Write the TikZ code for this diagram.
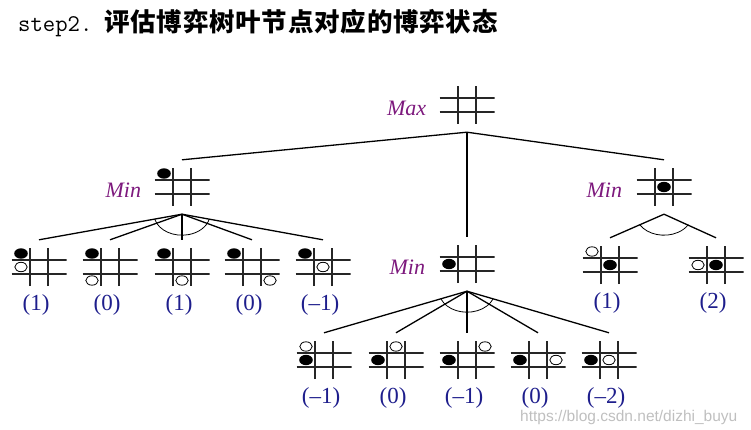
\documentclass[tikz,border=0pt]{standalone}
\usepackage{fontspec}
\setmainfont{Liberation Serif}
\newfontfamily\cjk[LetterSpace=3]{Noto Sans CJK SC}
\newfontfamily\wmfont{Liberation Sans}
\usetikzlibrary{positioning}
\definecolor{minc}{RGB}{125,25,125}
\definecolor{valc}{RGB}{30,30,140}

\begin{document}
\begin{tikzpicture}[
    x=1pt, y=1pt,
    gridline/.style={line width=1.6pt, black!85},
    board/.style={minimum width=55pt, minimum height=54pt, inner sep=0pt,
        path picture={
            \draw[gridline] ([shift={(-9,-19)}]path picture bounding box.center) -- ++(0,38)
                            ([shift={(9,-19)}]path picture bounding box.center) -- ++(0,38)
                            ([shift={(-27.5,-7)}]path picture bounding box.center) -- ++(55,0)
                            ([shift={(-27.5,7)}]path picture bounding box.center) -- ++(55,0);
        }},
    bstone/.style={fill=black},
    wstone/.style={draw=black, fill=white, line width=0.8pt},
    link/.style={line width=1.3pt},
    arcline/.style={line width=0.8pt},
    lbl/.style={inner sep=0pt, yshift=-3pt, text=minc, font=\itshape\fontsize{22}{22}\selectfont},
    val/.style={inner sep=0pt, xshift=-3pt, text=valc, font=\fontsize{23}{23}\selectfont}
]
\useasboundingbox (0,0) rectangle (751,-430);

% Title
\node[anchor=base west, inner sep=0pt] (title) at (18,-32)
    {\ttfamily\fontsize{24}{24}\selectfont step2.\hspace{12pt}{\cjk\bfseries\fontsize{25.5}{25.5}\selectfont 评估博弈树叶节点对应的博弈状态}};

% Boards
\node[board] (root) at (467,-105) {};
\node[board] (lmin) at (182,-187) {};
\node[board] (mmin) at (467,-264) {};
\node[board] (rmin) at (664,-187) {};
\foreach \n/\x in {l1/39, l2/110, l3/182, l4/252, l5/323}
    \node[board] (\n) at (\x,-267) {};
\foreach \n/\x in {m1/324, m2/396, m3/467, m4/538, m5/609}
    \node[board] (\n) at (\x,-360) {};
\foreach \n/\x in {r1/610, r2/716}
    \node[board] (\n) at (\x,-265) {};

% Stones
\foreach \n/\c/\r in {lmin/-1/1, mmin/-1/0, rmin/0/0, l1/-1/1, l2/-1/1, l3/-1/1, l4/-1/1, l5/-1/1,
        m1/-1/0, m2/-1/0, m3/-1/0, m4/-1/0, m5/-1/0, r1/0/0, r2/0/0}
    \fill[bstone] (\n) ++(18*\c,13.5*\r) ellipse [x radius=6.8, y radius=5.2];
\foreach \n/\c/\r in {l1/-1/0, l2/-1/-1, l3/0/-1, l4/1/-1, l5/0/0, m1/-1/1, m2/0/1, m3/1/1,
        m4/1/0, m5/0/0, r1/-1/1, r2/-1/0}
    \draw[wstone] (\n) ++(18*\c,13.5*\r) ellipse [x radius=6.2, y radius=4.7];

% Max / Min labels
\node[lbl, left=13pt of root] (tmax) {Max};
\node[lbl, left=13pt of lmin] (tlmin) {Min};
\node[lbl, left=14pt of mmin] (tmmin) {Min};
\node[lbl, left=14pt of rmin] (trmin) {Min};

% Connectors
\foreach \c in {lmin, mmin, rmin}
    \draw[link] (root.south) -- (\c.north);
\foreach \c in {l1, l2, l3, l4, l5}
    \draw[link] (lmin.south) -- (\c.north);
\foreach \c in {m1, m2, m3, m4, m5}
    \draw[link] (mmin.south) -- (\c.north);
\foreach \c in {r1, r2}
    \draw[link] (rmin.south) -- (\c.north);

% Min arcs
\draw[arcline] (lmin.south) ++(194:28 and 21) arc[start angle=194, end angle=346, x radius=28, y radius=21];
\draw[arcline] (mmin.south) ++(202:28 and 21) arc[start angle=202, end angle=338, x radius=28, y radius=21];
\draw[arcline] (rmin.south) ++(210:28 and 21) arc[start angle=210, end angle=330, x radius=28, y radius=21];

% Values
\foreach \n/\v in {l1/{(1)}, l2/{(0)}, l3/{(1)}, l4/{(0)}, l5/{(--1)},
        m1/{(--1)}, m2/{(0)}, m3/{(--1)}, m4/{(0)}, m5/{(--2)}, r1/{(1)}, r2/{(2)}}
    \node[val, below=0pt of \n] (v\n) {\v};

% Watermark
\node[anchor=base west, inner sep=0pt, text=black!25, font=\wmfont\fontsize{15.5}{15.5}\selectfont] (wm) at (520,-421)
    {https://blog.csdn.net/dizhi\_buyu};

\end{tikzpicture}
\end{document}
